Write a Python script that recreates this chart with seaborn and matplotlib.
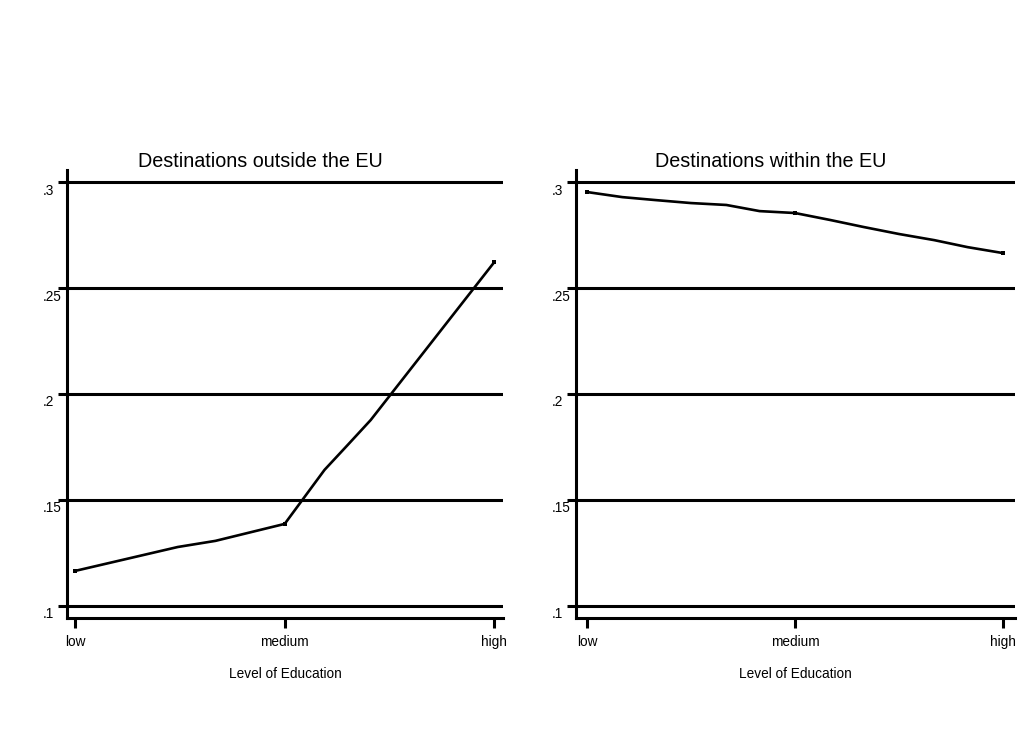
import matplotlib
matplotlib.use("Agg")
import matplotlib.pyplot as plt
import matplotlib.transforms as mtransforms
import pandas as pd
import seaborn as sns

# Predicted share by level of education (0 = low, 1 = medium, 2 = high)
outside_x = [0.0, 0.49, 0.67, 1.0, 1.19, 1.30, 1.41, 2.0]
outside_y = [0.1165, 0.1278, 0.1307, 0.1387, 0.1642, 0.1759, 0.1877, 0.2623]

within_x = [0.0, 0.17, 0.33, 0.5, 0.67, 0.83, 1.0, 1.17, 1.33, 1.5, 1.67, 1.83, 2.0]
within_y = [0.2953, 0.2929, 0.2915, 0.2901, 0.2892, 0.2863, 0.2854, 0.2821,
            0.2788, 0.2755, 0.2726, 0.2693, 0.2665]

panel_titles = ["Destinations outside the EU", "Destinations within the EU"]
edu_ticks = [0, 1, 2]
edu_labels = ["low", "medium", "high"]
y_ticks = [0.1, 0.15, 0.2, 0.25, 0.3]
y_labels = [".1", ".15", ".2", ".25", ".3"]
x_label = "Level of Education"

sns.set_theme(style="white")
plt.rcParams["font.family"] = ["Liberation Sans", "DejaVu Sans"]

fig = plt.figure(figsize=(10.19, 7.38), dpi=100)
fig.patch.set_facecolor("white")

W, H = 1019, 738
def axes_rect(left_px, right_px, top_px, bottom_px):
    return [left_px / W, (H - bottom_px) / H, (right_px - left_px) / W, (bottom_px - top_px) / H]

ax_left = fig.add_axes(axes_rect(67, 503, 170, 618))
ax_right = fig.add_axes(axes_rect(576, 1015, 170, 618))

frames = [
    (ax_left, outside_x, outside_y, (-0.038, 2.041)),
    (ax_right, within_x, within_y, (-0.053, 2.058)),
]

for (ax, xs, ys, xlim), title in zip(frames, panel_titles):
    df = pd.DataFrame({"edu": xs, "share": ys})
    ax.set_axisbelow(True)
    sns.lineplot(data=df, x="edu", y="share", ax=ax, color="black", lw=1.9,
                 estimator=None, sort=True)
    ends = df[df["edu"].isin(edu_ticks)]
    ax.plot(ends["edu"], ends["share"], ls="none", marker="s", ms=3.0,
            color="black", mew=0)

    ax.set_xlim(*xlim)
    ax.set_ylim(0.0943, 0.3057)

    ax.set_yticks(y_ticks)
    ax.set_yticklabels(y_labels)
    ax.set_xticks(edu_ticks)
    ax.set_xticklabels(edu_labels)

    ax.yaxis.grid(True, color="black", lw=2.2)
    ax.xaxis.grid(False)

    for side in ["top", "right"]:
        ax.spines[side].set_visible(False)
    for side in ["left", "bottom"]:
        ax.spines[side].set_visible(True)
        ax.spines[side].set_color("black")
        ax.spines[side].set_linewidth(2.2)

    ax.tick_params(axis="y", direction="out", length=6.5, width=2.2, color="black",
                   left=True, labelsize=9.8, labelcolor="black", pad=11)
    ax.tick_params(axis="x", direction="out", length=7, width=2.2, color="black",
                   bottom=True, labelsize=9.8, labelcolor="black", pad=5.5)
    offset = mtransforms.ScaledTranslation(0, -1.5 / 100, fig.dpi_scale_trans)
    for lab in ax.get_yticklabels():
        lab.set_horizontalalignment("left")
        lab.set_verticalalignment("top")
        lab.set_transform(lab.get_transform() + offset)

    ax.set_xlabel(x_label, fontsize=9.8, color="black", labelpad=13)
    ax.set_ylabel("")
    ax.text(0.443, 1.007, title, transform=ax.transAxes, ha="center", va="baseline",
            fontsize=14.2, color="black")

fig.savefig("out.png", dpi=100, facecolor="white")
